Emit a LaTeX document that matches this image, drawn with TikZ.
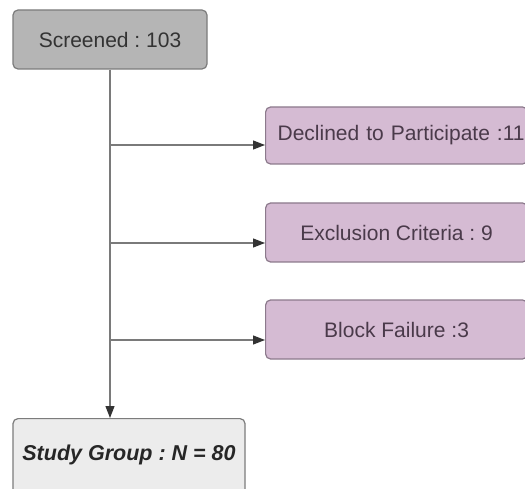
\documentclass[tikz,border=0pt]{standalone}
\usepackage{fontspec}
\setmainfont{Liberation Sans}
\usetikzlibrary{arrows.meta}
\definecolor{greyfill}{HTML}{B5B5B5}
\definecolor{greyline}{HTML}{7C7C7C}
\definecolor{pinkfill}{HTML}{D5BBD3}
\definecolor{pinkline}{HTML}{8C7A8C}
\definecolor{pinktext}{HTML}{4A3A4A}
\definecolor{lightfill}{HTML}{ECECEC}
\definecolor{connline}{HTML}{7A7A7A}
\definecolor{tipcol}{HTML}{333333}
\tikzset{
  box/.style={draw, line width=1.2pt, rounded corners=5pt, inner sep=0pt,
    font=\fontsize{21}{25}\selectfont\frenchspacing, align=center},
  greybox/.style={box, fill=greyfill, draw=greyline, text=black!80},
  pinkbox/.style={box, fill=pinkfill, draw=pinkline, text=pinktext},
  lightbox/.style={box, fill=lightfill, draw=greyline, text=black!85,
    font=\fontsize{21.5}{25}\selectfont\bfseries\itshape\frenchspacing},
  conn/.style={draw=connline, line width=1.2pt},
  arr/.style={conn, -{Triangle[length=12pt,width=9pt,color=tipcol]}}
}
\begin{document}
\begin{tikzpicture}[x=1pt,y=-1pt]
\useasboundingbox (0,0) rectangle (525,489);
\clip (0,0) rectangle (525,489);
\fill[white] (0,0) rectangle (525,489);
\node[greybox, minimum width=194pt, minimum height=59pt] (scr) at (110,39.5) {Screened : 103};
\node[pinkbox, minimum width=262pt, minimum height=57pt, anchor=west,
  text width=262pt, align=left] (dec) at (265,135.5) {\hspace*{12pt}\mbox{Declined to Participate :11}};
\node[pinkbox, minimum width=262pt, minimum height=59pt, anchor=west] (exc) at (265,232.5) {Exclusion Criteria : 9};
\node[pinkbox, minimum width=262pt, minimum height=59pt, anchor=west] (blk) at (265,329.5) {Block Failure :3};
\node[lightbox, minimum width=232pt, text height=41.5pt, text depth=50.5pt, anchor=north] (stu) at (129,418) {Study Group : N = 80};
\coordinate (j1) at (110,145);
\coordinate (j2) at (110,243);
\coordinate (j3) at (110,340);
\draw[arr] (scr.south -| j1) -- (j1 |- stu.north);
\draw[arr] (j1) -- (j1 -| dec.west);
\draw[arr] (j2) -- (j2 -| exc.west);
\draw[arr] (j3) -- (j3 -| blk.west);
\end{tikzpicture}
\end{document}
